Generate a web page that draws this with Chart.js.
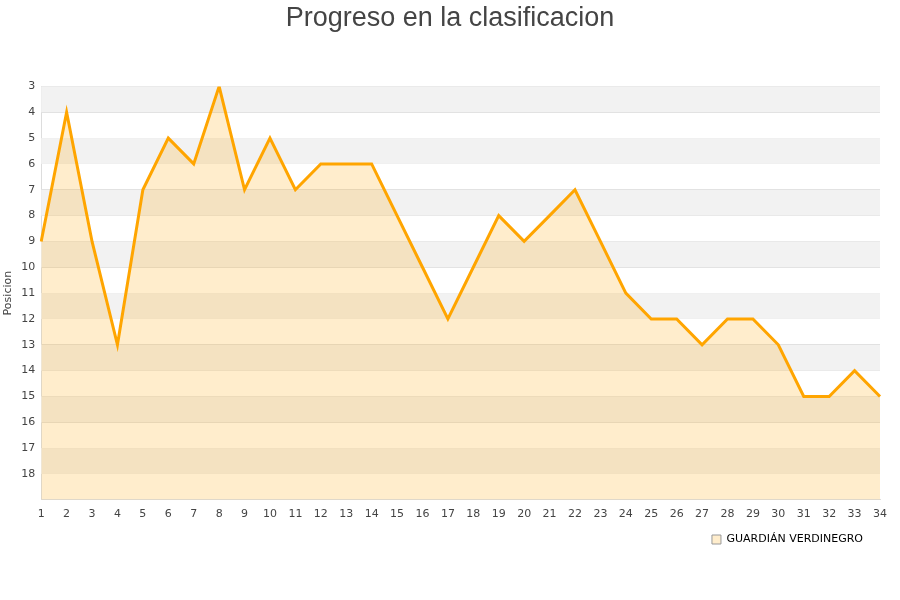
<!DOCTYPE html>
<html lang="es">
<head>
<meta charset="UTF-8">
<title>Progreso en la clasificacion</title>
<script src="https://cdn.jsdelivr.net/npm/chart.js@4.4.1/dist/chart.umd.min.js"></script>
<style>
  body { margin: 0; background: #fff; }
  #wrap { width: 900px; height: 600px; }
</style>
</head>
<body>
<div id="wrap"><canvas id="chart"></canvas></div>
<script>
var jornadas = ['1','2','3','4','5','6','7','8','9','10','11','12','13','14','15','16','17',
                '18','19','20','21','22','23','24','25','26','27','28','29','30','31','32','33','34'];
var posiciones = [9, 4, 9, 13, 7, 5, 6, 3, 7, 5, 7, 6, 6, 6, 8, 10, 12,
                  10, 8, 9, 8, 7, 9, 11, 12, 12, 13, 12, 12, 13, 15, 15, 14, 15];
var equipo = 'GUARDIÁN VERDINEGRO';
var posMin = 3;
var posMax = 19;

// alternating stripes behind the data
const bands = {
    id: 'bands',
    afterLayout(chart) {
        // centre the title on the whole canvas, nudge legend in a bit
        chart.titleBlock.left = 0;
        chart.titleBlock.right = chart.width;
        chart.legend.left -= 12;
        chart.legend.right -= 12;
    },
    beforeDatasetsDraw(chart) {
        const ctx = chart.ctx;
        const y = chart.scales.y;
        const area = chart.chartArea;
        ctx.save();
        for (let v = posMin; v < posMax; v++) {
            if ((v - posMin) % 2 !== 0) continue;
            const top = y.getPixelForValue(v);
            const bot = y.getPixelForValue(v + 1);
            ctx.fillStyle = '#f2f2f2';
            ctx.fillRect(area.left, top, area.right - area.left, bot - top);
        }
        ctx.restore();
    }
};

const ctx = document.getElementById('chart').getContext('2d');
new Chart(ctx, {
    type: 'line',
    data: {
        labels: jornadas,
        datasets: [{
            label: equipo,
            data: posiciones,
            borderColor: '#FFA500',
            backgroundColor: 'rgba(255,165,0,0.2)',
            borderWidth: 3,
            pointRadius: 0,
            tension: 0,
            fill: { value: posMax }
        }]
    },
    options: {
        responsive: true,
        maintainAspectRatio: false,
        animation: false,
        layout: { padding: { left: 2, right: 20, top: 2, bottom: 45 } },
        plugins: {
            title: {
                display: true,
                text: 'Progreso en la clasificacion',
                color: '#444',
                font: { family: 'Liberation Sans', size: 27, weight: 'normal' },
                padding: { top: 0, bottom: 52 }
            },
            legend: {
                position: 'bottom',
                align: 'end',
                labels: {
                    boxWidth: 9,
                    boxHeight: 9,
                    padding: 5,
                    color: '#000',
                    font: { family: 'DejaVu Sans', size: 11 },
                    generateLabels(chart) {
                        return [{
                            text: equipo,
                            fillStyle: 'rgba(255,165,0,0.2)',
                            strokeStyle: '#999',
                            lineWidth: 1,
                            fontColor: '#000'
                        }];
                    }
                }
            },
            tooltip: { enabled: false }
        },
        scales: {
            x: {
                type: 'category',
                offset: false,
                grid: { display: false, drawTicks: false },
                border: { color: '#ddd' },
                ticks: {
                    color: '#444',
                    font: { family: 'DejaVu Sans', size: 11 },
                    maxRotation: 0,
                    autoSkip: false,
                    padding: 8
                }
            },
            y: {
                reverse: true,
                min: posMin,
                max: posMax,
                grid: { color: '#ddd', drawTicks: false },
                border: { color: '#ddd' },
                title: {
                    display: true,
                    text: 'Posicion',
                    color: '#444',
                    font: { family: 'DejaVu Sans', size: 11 },
                    padding: 0
                },
                ticks: {
                    stepSize: 1,
                    color: '#444',
                    font: { family: 'DejaVu Sans', size: 11 },
                    padding: 6,
                    callback: function(v) { return v === posMax ? '' : v; }
                }
            }
        }
    },
    plugins: [bands]
});
</script>
</body>
</html>
